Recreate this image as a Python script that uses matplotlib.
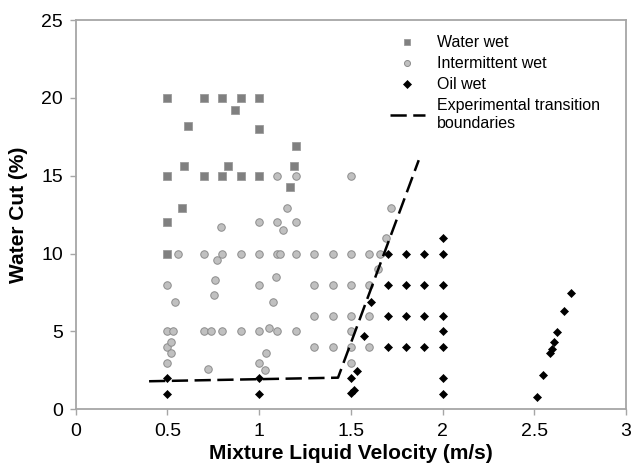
import matplotlib
matplotlib.use("Agg")
import numpy as np
import matplotlib.pyplot as plt
from matplotlib.legend_handler import HandlerLine2D

plt.rcParams['font.family'] = ['Liberation Sans', 'DejaVu Sans']

# Water wet (squares)
water_x = [0.5, 0.7, 0.8, 0.9, 1.0, 0.87, 0.61, 1.0, 1.2, 0.59, 0.83, 1.19,
           0.5, 0.7, 0.8, 0.9, 1.0, 1.17, 0.58, 0.5, 0.5]
water_y = [20, 20, 20, 20, 20, 19.2, 18.2, 18.0, 16.9, 15.6, 15.6, 15.6,
           15, 15, 15, 15, 15, 14.3, 12.9, 12, 10]

# Intermittent wet (circles)
inter_x = [1.1, 1.2, 1.5, 1.15, 1.72, 1.0, 1.1, 1.2, 0.79, 1.13, 1.69,
           0.56, 0.7, 0.8, 0.9, 1.0, 1.1, 1.115, 1.2, 1.3, 1.4, 1.5, 1.6, 1.66,
           0.77, 1.65, 0.5, 1.0, 0.76, 1.09,
           1.3, 1.4, 1.5, 1.6,
           0.755, 0.54, 1.075,
           1.3, 1.4, 1.5, 1.6,
           0.5, 0.53, 0.7, 0.74, 0.8, 0.9, 1.0, 1.1, 1.2,
           1.055, 1.5, 0.5, 0.52, 0.52,
           1.3, 1.4, 1.5, 1.6,
           0.5, 0.72, 1.035, 1.0, 1.03, 1.5]
inter_y = [15, 15, 15, 12.9, 12.9, 12, 12, 12, 11.7, 11.5, 11,
           10, 10, 10, 10, 10, 10, 10, 10, 10, 10, 10, 10, 10,
           9.6, 9.0, 8, 8, 8.3, 8.5,
           8, 8, 8, 8,
           7.35, 6.9, 6.9,
           6, 6, 6, 6,
           5, 5, 5, 5, 5, 5, 5, 5, 5,
           5.25, 5.0, 4, 4.3, 3.6,
           4, 4, 4, 4,
           3, 2.6, 3.6, 3, 2.5, 3]

# Oil wet (diamonds)
oil_x = [0.5, 0.5, 1.0, 1.0, 1.5, 1.5, 1.515, 1.535, 1.57, 1.61,
         1.7, 1.8, 1.9, 2.0,
         1.7, 1.8, 1.9, 2.0,
         1.7, 1.8, 1.9, 2.0,
         1.7, 1.8, 1.9, 2.0,
         2.0, 2.0, 2.0, 2.0,
         2.7, 2.66, 2.625, 2.605, 2.595, 2.585, 2.55, 2.515]
oil_y = [2, 1, 2, 1, 2, 1.05, 1.25, 2.45, 4.7, 6.9,
         10, 10, 10, 10,
         8, 8, 8, 8,
         6, 6, 6, 6,
         4, 4, 4, 4,
         11, 5, 2, 1,
         7.5, 6.3, 4.95, 4.3, 3.9, 3.6, 2.2, 0.8]

# Experimental transition boundaries
bound_x = [0.40, 1.43, 1.87]
bound_y = [1.8, 2.03, 16.0]

x_ticks = [0, 0.5, 1, 1.5, 2, 2.5, 3]
x_ticklabels = ['0', '0.5', '1', '1.5', '2', '2.5', '3']
y_ticks = [0, 5, 10, 15, 20, 25]


class RightMarker(HandlerLine2D):
    def get_xdata(self, legend, xdescent, ydescent, width, height, fontsize):
        xdata, _ = super().get_xdata(legend, xdescent, ydescent, width, height, fontsize)
        return xdata, np.array([0.8 * width - xdescent])


fig = plt.figure(figsize=(6.34, 4.67), dpi=100)
ax = fig.add_axes([0.1194, 0.1236, 0.868, 0.8334])

grey_spine = '#a6a6a6'
h1, = ax.plot(water_x, water_y, linestyle='none', marker='s', markersize=5.2,
              markerfacecolor='#808080', markeredgecolor='#9a9a9a', markeredgewidth=0.6,
              label='Water wet', zorder=3)
h2, = ax.plot(inter_x, inter_y, linestyle='none', marker='o', markersize=5.4,
              markerfacecolor='#c0c0c0', markeredgecolor='#8c8c8c', markeredgewidth=0.7,
              label='Intermittent wet', zorder=3)
h3, = ax.plot(oil_x, oil_y, linestyle='none', marker='D', markersize=4.5,
              markerfacecolor='black', markeredgecolor='black', markeredgewidth=0.5,
              label='Oil wet', zorder=4)
h4, = ax.plot(bound_x, bound_y, color='black', linewidth=1.8, dashes=(6.5, 2.6),
              label='Experimental transition\nboundaries', zorder=5)

ax.set_xlim(0, 3)
ax.set_ylim(0, 25)
ax.set_xticks(x_ticks)
ax.set_xticklabels(x_ticklabels)
ax.set_yticks(y_ticks)
for s in ax.spines.values():
    s.set_color(grey_spine)
    s.set_linewidth(1.3)
ax.tick_params(axis='both', direction='out', length=4, width=1, color=grey_spine,
               labelsize=14, pad=5)
ax.tick_params(axis='x', pad=6)

ax.set_xlabel('Mixture Liquid Velocity (m/s)', fontsize=15, fontweight='bold', labelpad=3)
ax.set_ylabel('Water Cut (%)', fontsize=15, fontweight='bold', labelpad=10)

leg = ax.legend(handles=[h1, h2, h3, h4],
                loc='upper left', bbox_to_anchor=(0.55, 0.99), frameon=False,
                fontsize=11.5, handlelength=2.2, handletextpad=0.75,
                labelspacing=0.38, borderaxespad=0.3, numpoints=1, markerscale=0.8,
                handler_map={h1: RightMarker(), h2: RightMarker(), h3: RightMarker()})

fig.savefig('out.png', dpi=100)
